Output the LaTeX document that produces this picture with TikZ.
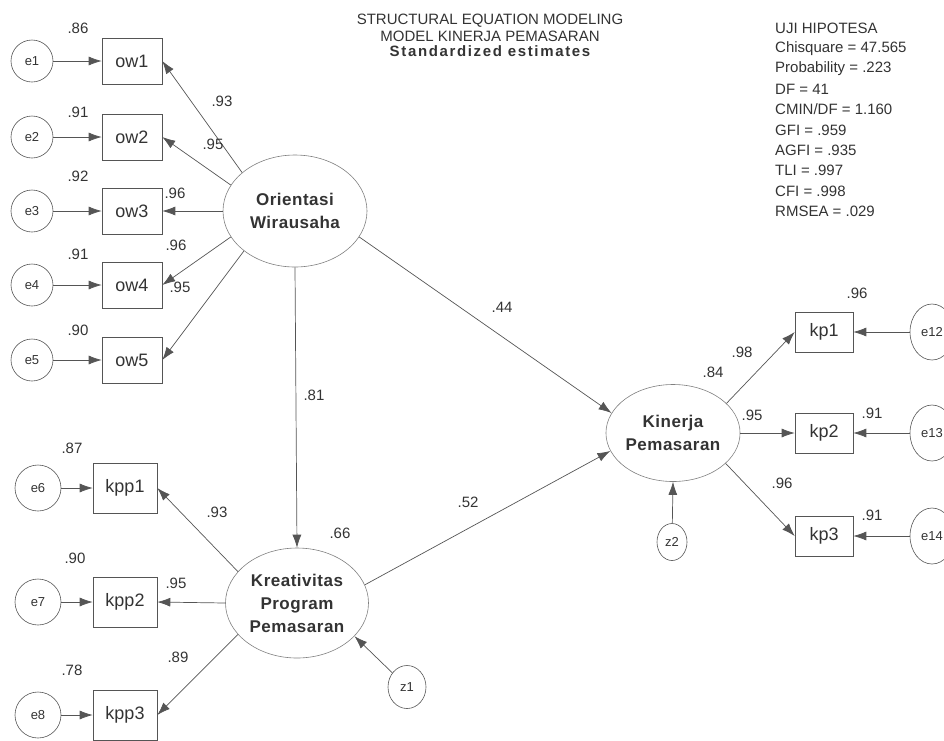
\documentclass[tikz,border=0pt]{standalone}
\usepackage{fontspec}
\setmainfont{Liberation Sans}
\newfontfamily\latfont[LetterSpace=3]{Liberation Sans}
\newfontfamily\subfont[LetterSpace=11]{Liberation Sans}
\usetikzlibrary{arrows.meta,shapes.geometric}
\definecolor{ink}{HTML}{333333}
\definecolor{edge}{HTML}{555555}
\tikzset{
  obs/.style={draw=edge,line width=0.6pt,rectangle,minimum width=60pt,minimum height=46pt,
    inner sep=0pt,font=\fontsize{18}{20}\selectfont},
  err/.style={draw=edge,line width=0.6pt,ellipse,minimum width=42pt,minimum height=42pt,
    inner sep=0pt,font=\fontsize{13}{15}\selectfont},
  lat/.style={draw=edge!75,line width=0.6pt,ellipse,minimum width=144pt,minimum height=112pt,
    inner sep=0pt,align=center,font=\latfont\bfseries\fontsize{17}{23}\selectfont},
  arr/.style={draw=edge,line width=0.7pt,-{Latex[length=13pt,width=9pt]}},
  est/.style={inner sep=0pt,font=\fontsize{15}{18}\selectfont},
}
\begin{document}
\begin{tikzpicture}[x=1pt,y=-1pt,text=ink]
  \useasboundingbox (0,0) rectangle (944,740);
  \clip (0,0) rectangle (944,740);
  % title and fit indices
  \node[est] (t1) at (490,21) {STRUCTURAL EQUATION MODELING};
  \node[est] (t2) at (490,36) {MODEL KINERJA PEMASARAN};
  \node[est] (t3) at (490,51) {\subfont\bfseries Standardized estimates};
  \foreach \txt [count=\k] in {UJI HIPOTESA, Chisquare = 47.565, Probability = .223,
      DF = 41, CMIN/DF = 1.160, GFI = .959, AGFI = .935, TLI = .997, CFI = .998,
      RMSEA = .029}
    \node[est,anchor=west] (fit\k) at (775,{28+20.4*(\k-1)}) {\txt};
  % latent variables
  \node[lat] (OW) at (295,211) {Orientasi\\Wirausaha};
  \node[lat,minimum width=143pt,minimum height=110pt] (KPP) at (297,603) {Kreativitas\\Program\\Pemasaran};
  \node[lat,minimum width=134pt,minimum height=97pt] (KP) at (673,433) {Kinerja\\Pemasaran};
  % indicators of Orientasi Wirausaha
  \foreach \i/\y/\a in {1/61/144,2/137/158,3/211/180,4/285/202,5/360/218} {
    \node[obs] (ow\i) at (132,\y) {ow\i};
    \node[err] (e\i) at (32,\y) {e\i};
    \draw[arr] (e\i) -- (ow\i);
    \draw[arr] (OW.\a) -- (ow\i.east);
  }
  % indicators of Kreativitas Program Pemasaran
  \foreach \i/\n/\y/\a in {1/6/488/152,2/7/602/180,3/8/715/208} {
    \node[obs,minimum width=64pt,minimum height=50pt] (kpp\i) at (125,\y) {kpp\i};
    \node[err,minimum width=46pt,minimum height=46pt] (e\n) at (38,\y) {e\n};
    \draw[arr] (e\n) -- (kpp\i);
    \draw[arr] (KPP.\a) -- (kpp\i.east);
  }
  % indicators of Kinerja Pemasaran
  \foreach \i/\n/\y/\a in {1/12/332/29,2/13/433/0,3/14/536/-30} {
    \node[obs,minimum width=58pt,minimum height=40pt] (kp\i) at (824,\y) {kp\i};
    \node[err,minimum width=44pt,minimum height=56pt] (e\n) at (932,\y) {e\n};
    \draw[arr] (e\n) -- (kp\i);
    \draw[arr] (KP.\a) -- (kp\i.west);
  }
  % structural paths and disturbances
  \draw[arr] (OW.south) -- (KPP.north);
  \draw[arr] (OW.-22) -- (KP.162);
  \draw[arr] (KPP.15) -- (KP.196);
  \node[err,minimum width=38pt,minimum height=43pt] (z1) at (407,687) {z1};
  \draw[arr] (z1) -- (KPP.-30);
  \node[err,minimum width=30pt,minimum height=37pt] (z2) at (672,542) {z2};
  \draw[arr] (z2) -- (KP.south);
  % squared multiple correlations
  \foreach \v/\x/\y [count=\k] in {.86/78/28,.91/78/112,.92/78/176,.91/78/254,.90/78/330,
      .87/72/448,.90/75/558,.78/72/670,.66/340/533,.96/857/293,.91/872/413,.91/872/515}
    \node[est] (r\k) at (\x,\y) {\v};
  % standardized loadings and path weights
  \foreach \v/\x/\y [count=\k] in {.93/222/101,.95/213/144,.96/175/193,.96/176/245,.95/180/287,
      .93/217/512,.95/176/583,.89/178/657,.81/314/395,.44/502/307,.52/468/502,
      .98/742/352,.84/713/372,.95/752/415,.96/782/483}
    \node[est] (w\k) at (\x,\y) {\v};
\end{tikzpicture}
\end{document}
